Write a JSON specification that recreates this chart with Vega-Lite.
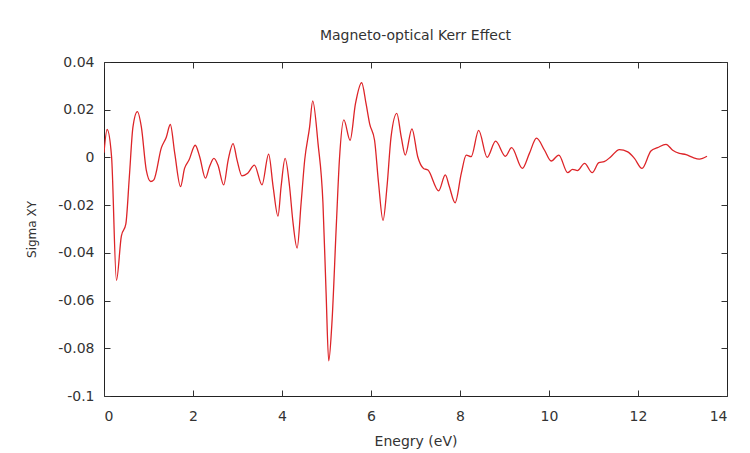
{
  "$schema": "https://vega.github.io/schema/vega-lite/v6.json",
  "width": 623,
  "height": 334,
  "autosize": "none",
  "padding": {"left": 104, "top": 62, "right": 23, "bottom": 57},
  "background": "white",
  "title": {"text": "Magneto-optical Kerr Effect", "fontSize": 14, "font": "DejaVu Sans", "fontWeight": "normal", "color": "#333333", "anchor": "middle", "offset": 12},
  "data": {"values": [
    {"energy": 0.0, "sigma": 0.002},
    {"energy": 0.07, "sigma": 0.0117},
    {"energy": 0.17, "sigma": 0.0003},
    {"energy": 0.28, "sigma": -0.0515},
    {"energy": 0.39, "sigma": -0.033},
    {"energy": 0.49, "sigma": -0.028},
    {"energy": 0.57, "sigma": -0.008},
    {"energy": 0.65, "sigma": 0.0127},
    {"energy": 0.75, "sigma": 0.0192},
    {"energy": 0.84, "sigma": 0.0127},
    {"energy": 0.95, "sigma": -0.0053},
    {"energy": 1.05, "sigma": -0.0101},
    {"energy": 1.12, "sigma": -0.0094},
    {"energy": 1.29, "sigma": 0.0041},
    {"energy": 1.4, "sigma": 0.0085},
    {"energy": 1.49, "sigma": 0.0138},
    {"energy": 1.59, "sigma": 0.0017},
    {"energy": 1.72, "sigma": -0.0122},
    {"energy": 1.81, "sigma": -0.0046},
    {"energy": 1.91, "sigma": -0.0011},
    {"energy": 2.05, "sigma": 0.0051},
    {"energy": 2.15, "sigma": 0.0003},
    {"energy": 2.28, "sigma": -0.0087},
    {"energy": 2.37, "sigma": -0.0039},
    {"energy": 2.47, "sigma": -0.0004},
    {"energy": 2.56, "sigma": -0.0032},
    {"energy": 2.69, "sigma": -0.0115},
    {"energy": 2.79, "sigma": -0.0011},
    {"energy": 2.9, "sigma": 0.0058},
    {"energy": 2.99, "sigma": -0.0011},
    {"energy": 3.1, "sigma": -0.0077},
    {"energy": 3.23, "sigma": -0.0066},
    {"energy": 3.38, "sigma": -0.0032},
    {"energy": 3.55, "sigma": -0.0115},
    {"energy": 3.7, "sigma": 0.0014},
    {"energy": 3.8, "sigma": -0.0122},
    {"energy": 3.91, "sigma": -0.0246},
    {"energy": 3.98, "sigma": -0.0122},
    {"energy": 4.07, "sigma": -0.0004},
    {"energy": 4.17, "sigma": -0.0122},
    {"energy": 4.24, "sigma": -0.026},
    {"energy": 4.34, "sigma": -0.038},
    {"energy": 4.43, "sigma": -0.019},
    {"energy": 4.51, "sigma": -0.0011},
    {"energy": 4.62, "sigma": 0.0127},
    {"energy": 4.69, "sigma": 0.0237},
    {"energy": 4.81, "sigma": 0.0058},
    {"energy": 4.92, "sigma": -0.019},
    {"energy": 4.99, "sigma": -0.0563},
    {"energy": 5.05, "sigma": -0.0853},
    {"energy": 5.12, "sigma": -0.07},
    {"energy": 5.22, "sigma": -0.0287},
    {"energy": 5.29, "sigma": -0.0011},
    {"energy": 5.39, "sigma": 0.0157},
    {"energy": 5.53, "sigma": 0.0072},
    {"energy": 5.65, "sigma": 0.0224},
    {"energy": 5.79, "sigma": 0.0313},
    {"energy": 5.89, "sigma": 0.0224},
    {"energy": 5.97, "sigma": 0.0141},
    {"energy": 6.08, "sigma": 0.0072},
    {"energy": 6.17, "sigma": -0.0108},
    {"energy": 6.27, "sigma": -0.0264},
    {"energy": 6.36, "sigma": -0.0122},
    {"energy": 6.45, "sigma": 0.0085},
    {"energy": 6.58, "sigma": 0.0185},
    {"energy": 6.68, "sigma": 0.0085},
    {"energy": 6.77, "sigma": 0.001},
    {"energy": 6.92, "sigma": 0.012},
    {"energy": 7.05, "sigma": 0.0003},
    {"energy": 7.18, "sigma": -0.0046},
    {"energy": 7.28, "sigma": -0.0053},
    {"energy": 7.52, "sigma": -0.014},
    {"energy": 7.67, "sigma": -0.0073},
    {"energy": 7.76, "sigma": -0.0122},
    {"energy": 7.89, "sigma": -0.019},
    {"energy": 8.03, "sigma": -0.0066},
    {"energy": 8.14, "sigma": 0.001},
    {"energy": 8.25, "sigma": 0.0003},
    {"energy": 8.42, "sigma": 0.0113},
    {"energy": 8.61, "sigma": 0.0},
    {"energy": 8.8, "sigma": 0.0068},
    {"energy": 9.02, "sigma": 0.0005},
    {"energy": 9.16, "sigma": 0.0041},
    {"energy": 9.4, "sigma": -0.0046},
    {"energy": 9.56, "sigma": 0.0017},
    {"energy": 9.72, "sigma": 0.0081},
    {"energy": 9.9, "sigma": 0.003},
    {"energy": 10.05, "sigma": -0.0015},
    {"energy": 10.22, "sigma": 0.001},
    {"energy": 10.42, "sigma": -0.0064},
    {"energy": 10.53, "sigma": -0.005},
    {"energy": 10.64, "sigma": -0.0055},
    {"energy": 10.8, "sigma": -0.0025},
    {"energy": 10.97, "sigma": -0.0064},
    {"energy": 11.12, "sigma": -0.0022},
    {"energy": 11.24, "sigma": -0.0018},
    {"energy": 11.39, "sigma": 0.0003},
    {"energy": 11.58, "sigma": 0.0033},
    {"energy": 11.77, "sigma": 0.0023},
    {"energy": 11.92, "sigma": -0.0004},
    {"energy": 12.09, "sigma": -0.0046},
    {"energy": 12.29, "sigma": 0.0027},
    {"energy": 12.44, "sigma": 0.0041},
    {"energy": 12.63, "sigma": 0.0055},
    {"energy": 12.78, "sigma": 0.003},
    {"energy": 12.93, "sigma": 0.0017},
    {"energy": 13.08, "sigma": 0.0012},
    {"energy": 13.23, "sigma": 0.0},
    {"energy": 13.38, "sigma": -0.0007},
    {"energy": 13.55, "sigma": 0.0005}
  ]},
  "config": {
    "view": {"stroke": "#222222", "strokeWidth": 1},
    "axis": {
      "domain": false,
      "grid": false,
      "labelFont": "DejaVu Sans",
      "titleFont": "DejaVu Sans",
      "labelFontSize": 14,
      "titleFontSize": 14,
      "titleFontWeight": "normal",
      "labelColor": "#333333",
      "titleColor": "#333333",
      "tickColor": "#333333",
      "tickSize": -6,
      "tickWidth": 1
    }
  },
  "layer": [
    {
      "mark": {"type": "line", "color": "#dd2428", "strokeWidth": 1.3, "interpolate": "monotone", "clip": true},
      "encoding": {
        "x": {
          "field": "energy", "type": "quantitative",
          "scale": {"domain": [0, 14], "nice": false, "zero": false},
          "axis": {"orient": "bottom", "values": [0, 2, 4, 6, 8, 10, 12, 14], "title": "Enegry (eV)", "labelPadding": 19, "titlePadding": 11, "labelExpr": "datum.value + ''"}
        },
        "y": {
          "field": "sigma", "type": "quantitative",
          "scale": {"domain": [-0.1, 0.04], "nice": false, "zero": false},
          "axis": {"orient": "left", "values": [0.04, 0.02, 0, -0.02, -0.04, -0.06, -0.08, -0.1], "title": "Sigma XY", "titleFontSize": 12, "labelPadding": 16, "titlePadding": 19, "labelExpr": "datum.value + ''"}
        }
      }
    },
    {
      "mark": {"type": "line", "opacity": 0},
      "encoding": {
        "x": {
          "field": "energy", "type": "quantitative",
          "scale": {"domain": [0, 14], "nice": false, "zero": false},
          "axis": {"orient": "top", "values": [0, 2, 4, 6, 8, 10, 12, 14], "title": null, "labels": false}
        },
        "y": {
          "field": "sigma", "type": "quantitative",
          "scale": {"domain": [-0.1, 0.04], "nice": false, "zero": false},
          "axis": {"orient": "right", "values": [0.04, 0.02, 0, -0.02, -0.04, -0.06, -0.08, -0.1], "title": null, "labels": false}
        }
      }
    }
  ],
  "resolve": {"scale": {"x": "independent", "y": "independent"}}
}
